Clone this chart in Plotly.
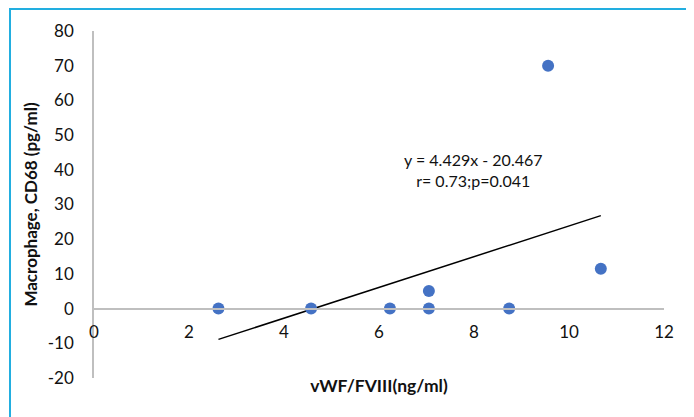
import plotly.graph_objects as go

# Data
vwf_fviii = [2.62, 4.57, 6.23, 7.05, 7.05, 8.74, 9.56, 10.67]
cd68 = [0.0, 0.0, 0.0, 5.1, 0.0, 0.0, 70.0, 11.5]

# Trendline coefficients (from the chart label)
slope = 4.429
intercept = -20.467
eq_text = "y = 4.429x - 20.467<br>r= 0.73;p=0.041"

x_ticks = [0, 2, 4, 6, 8, 10, 12]
y_ticks = [-20, -10, 0, 10, 20, 30, 40, 50, 60, 70, 80]
y_tick_labels = ["-20", "-10", "0", "10", "20", "30", "40", "50", "60", "70", "80"]

FONT = "Lato, Carlito, Calibri, sans-serif"
TXT = "#111111"

fig = go.Figure()

x0, x1 = min(vwf_fviii), max(vwf_fviii)
fig.add_trace(go.Scatter(
    x=[x0, x1], y=[slope * x0 + intercept, slope * x1 + intercept],
    mode="lines", line=dict(color="black", width=1.5),
    hoverinfo="skip", showlegend=False))

fig.add_trace(go.Scatter(
    x=vwf_fviii, y=cd68, mode="markers",
    marker=dict(color="#4472C4", size=12),
    showlegend=False))

fig.add_annotation(x=7.98, y=40, xref="x", yref="y", text=eq_text,
                   showarrow=False, font=dict(family=FONT, size=16, color=TXT),
                   align="center")

# outer border (plot area spans 570 x 347 px)
fig.add_shape(type="rect", xref="paper", yref="paper",
              x0=(10 - 94) / 570, x1=(687 - 94) / 570,
              y0=-0.3, y1=(378 - 9) / 347,
              line=dict(color="#22AEE0", width=2), layer="below")

# page body has an 8px margin, so the figure is offset by 8px
fig.update_layout(
    width=686, height=409,
    margin=dict(l=86, r=30, t=23, b=39),
    paper_bgcolor="white", plot_bgcolor="white",
    font=dict(family=FONT, size=17, color=TXT),
    xaxis=dict(range=[0, 12], tickvals=x_ticks, showgrid=False, zeroline=False,
               showline=True, linecolor="#BFBFBF", linewidth=1.5,
               anchor="free", position=0.2, automargin=False,
               ticks="outside", ticklen=8, tickcolor="rgba(0,0,0,0)",
               tickfont=dict(size=17, color=TXT),
               title=dict(text="<b>vWF/FVIII(ng/ml)</b>", standoff=38,
                          font=dict(size=17.5, color=TXT))),
    yaxis=dict(range=[-20, 80], tickvals=y_ticks, ticktext=y_tick_labels,
               showgrid=False, zeroline=False, automargin=False,
               showline=True, linecolor="#BFBFBF", linewidth=1.5,
               ticks="outside", ticklen=15, tickcolor="rgba(0,0,0,0)",
               tickfont=dict(size=17, color=TXT),
               title=dict(text="<b>Macrophage, CD68 (pg/ml)</b>", standoff=6,
                          font=dict(size=17, color=TXT))),
)

fig.write_html("out.html")
